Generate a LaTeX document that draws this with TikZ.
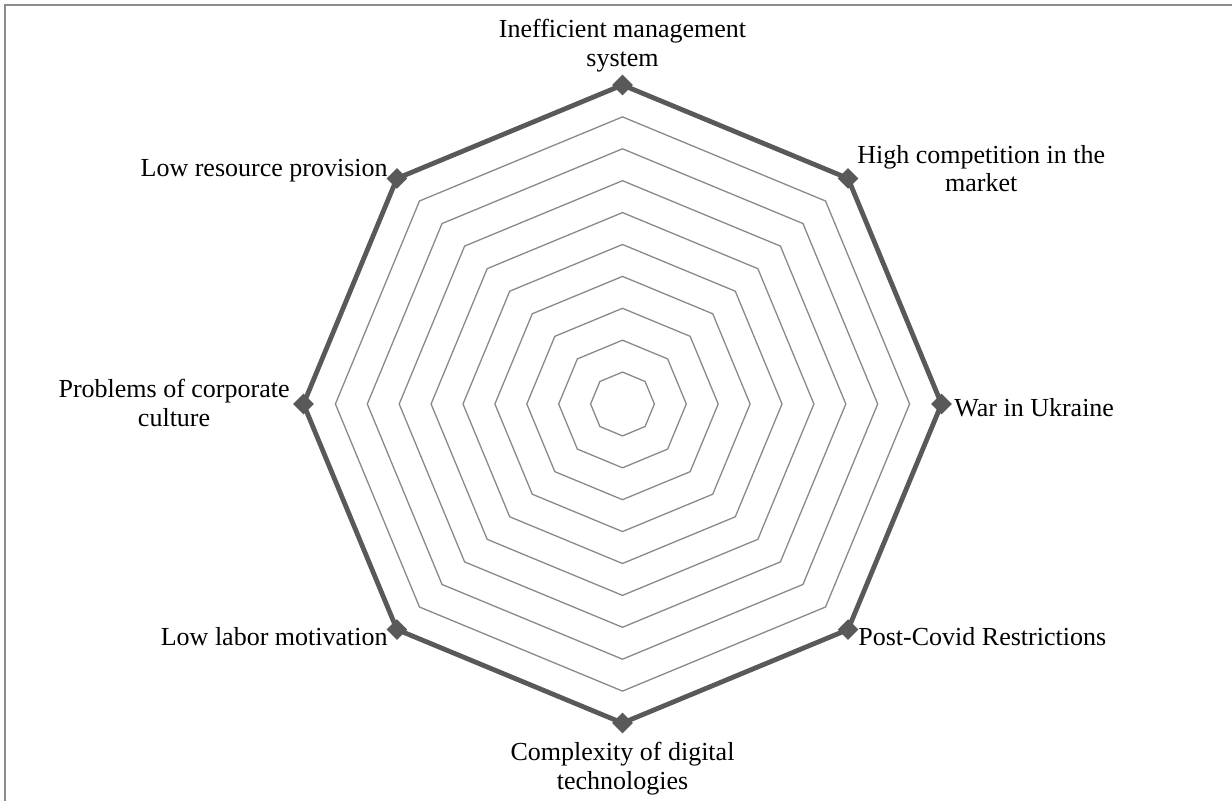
\documentclass[tikz,border=0pt]{standalone}
\usepackage{fontspec}
\setmainfont{Liberation Serif}
\usetikzlibrary{shapes.geometric}

\definecolor{seriesgray}{HTML}{595959}
\definecolor{gridgray}{HTML}{898989}
\definecolor{framegray}{HTML}{8C8C8C}

\tikzset{
	gridline/.style = {draw = gridgray, line width = 0.65pt, line join = miter},
	series/.style = {draw = seriesgray, line width = 2.4pt, line join = round},
	marker/.style = {diamond, fill = seriesgray, inner sep = 0pt, minimum size = 10.5pt},
	axislabel/.style = {font = \fontsize{13}{14.2}\selectfont, align = center, inner sep = 0pt}
}

\begin{document}
\begin{tikzpicture}[x = 0.5pt, y = -0.5pt]

	\useasboundingbox (0, 0) rectangle (1232, 801);

	% Frame
	\draw [framegray, line width = 1pt] (5, 801) -- (5, 5) -- (1232, 5);

	\begin{scope}[shift = {(622.5, 404)}]

		% Grid rings
		\foreach \r in {1, ..., 10}
			\draw [gridline] (-90:\r*31.9) -- (-45:\r*31.9) -- (0:\r*31.9) -- (45:\r*31.9)
				-- (90:\r*31.9) -- (135:\r*31.9) -- (180:\r*31.9) -- (225:\r*31.9) -- cycle;

		% Vertices of the series
		\foreach \i in {1, ..., 8}
			\coordinate (v\i) at (-135 + 45*\i:319);

		\draw [series] (v1) -- (v2) -- (v3) -- (v4) -- (v5) -- (v6) -- (v7) -- (v8) -- cycle;

		\foreach \i in {1, ..., 8}
			\node [marker] (m\i) at (v\i) {};

	\end{scope}

	% Axis labels
	\node [axislabel, anchor = north] (management) at (622.5, 19) {Inefficient management\\system};
	\node [axislabel, anchor = north west] (competition) at (857, 145) {High competition in the\\market};
	\node [axislabel, anchor = base west] (war) at (954, 417) {War in Ukraine};
	\node [axislabel, anchor = base west] (covid) at (858, 646) {Post-Covid Restrictions};
	\node [axislabel, anchor = north] (digital) at (622.5, 742) {Complexity of digital\\technologies};
	\node [axislabel, anchor = base east] (motivation) at (388, 646) {Low labor motivation};
	\node [axislabel, anchor = north east] (culture) at (290, 379) {Problems of corporate\\culture};
	\node [axislabel, anchor = base east] (resource) at (388, 177) {Low resource provision};

\end{tikzpicture}
\end{document}
